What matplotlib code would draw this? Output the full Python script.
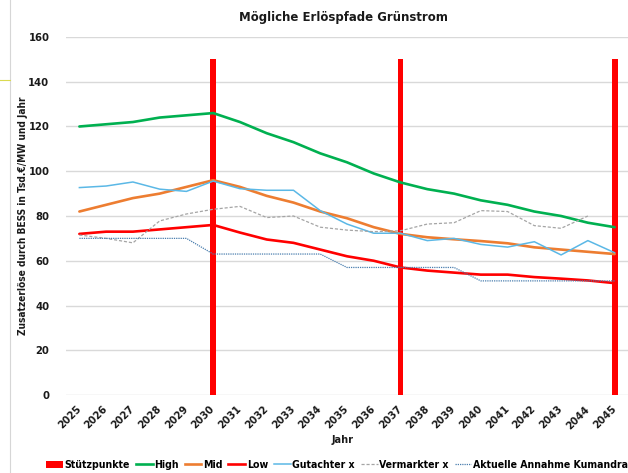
import numpy as np
import matplotlib
matplotlib.use("Agg")
import matplotlib.pyplot as plt
from matplotlib.lines import Line2D
from matplotlib.patches import Patch

plt.rcParams['font.family'] = ['DejaVu Sans']
plt.rcParams['font.stretch'] = 'condensed'
plt.rcParams['font.weight'] = 'bold'

years = [str(y) for y in range(2025, 2046)]
stuetzpunkte = [np.nan]*5 + [150] + [np.nan]*6 + [150] + [np.nan]*7 + [150]
high = [120, 121, 122, 124, 125, 126, 122, 117, 113, 108, 104, 99, 95, 92, 90, 87, 85, 82, 80, 77, 75]
mid = [82, 85, 88, 90, 93, 96, 93, 89, 86, 82, 79, 75, 72, 70.5, 69.6, 68.8, 67.8, 66, 65, 64, 63]
low = [72, 73, 73, 74, 75, 76, 72.6, 69.5, 68, 65, 62, 60, 57, 55.6, 54.7, 53.8, 53.8, 52.7, 52, 51.2, 50]
gutachter = [92.7, 93.4, 95.2, 92, 91, 95.6, 92.2, 91.5, 91.5, 82.4, 76.4, 72.3, 72.3, 69, 70, 67.3, 66.1, 68.5, 62.6, 69, 63.6]
vermarkter = [71.5, 70, 68, 77.8, 80.9, 83, 84.3, 79.3, 80, 75, 73.7, 73, 73.4, 76.4, 77, 82.4, 82, 75.7, 74.5, 80, np.nan]
kumandra = [70, 70, 70, 70, 70, 63, 63, 63, 63, 63, 57, 57, 57, 57, 57, 51, 51, 51, 51, 51, 51]

W, H = 628, 473
fig = plt.figure(figsize=(W/100, H/100), dpi=100)
ax = fig.add_axes([66/W, 1-395/H, (628-66)/W, (395-37)/H])

x = np.arange(len(years))
c_high = '#00B050'
c_mid = '#ED7D31'
c_low = '#FF0000'
c_gut = '#5BB8E6'
c_ver = '#A5A5A5'
c_kum = '#4A7EAE'

ax.bar(x, stuetzpunkte, width=0.22, color='#FF0000', zorder=2)
ax.plot(x, high, color=c_high, lw=1.9, zorder=3, solid_capstyle='round')
ax.plot(x, mid, color=c_mid, lw=1.9, zorder=3, solid_capstyle='round')
ax.plot(x, low, color=c_low, lw=1.9, zorder=3, solid_capstyle='round')
ax.plot(x, gutachter, color=c_gut, lw=1.1, zorder=3)
ax.plot(x, vermarkter, color=c_ver, lw=0.9, ls=(0, (2.5, 1.5)), zorder=3)
ax.plot(x, kumandra, color=c_kum, lw=0.9, ls=(0, (1, 0.8)), zorder=3)

ax.set_xlim(-0.5, len(years) - 0.5)
ax.set_ylim(0, 160)
ax.set_yticks(np.arange(0, 161, 20))
ax.yaxis.grid(True, color='#D9D9D9', lw=1.0, zorder=0)
ax.set_axisbelow(True)
for s in ax.spines.values():
    s.set_visible(False)
ax.tick_params(axis='both', length=0, labelsize=8, colors='#1a1a1a')
ax.tick_params(axis='y', pad=12)
ax.set_xticks(x)
ax.set_xticklabels(years, rotation=45, ha='right', va='center', rotation_mode='anchor',
                   fontweight='bold', fontstretch='condensed')
ax.tick_params(axis='x', pad=9)
for lab in ax.get_yticklabels():
    lab.set_fontweight('bold')
    lab.set_fontstretch('condensed')

ax.set_ylabel('Zusatzerlöse durch BESS in Tsd.€/MW und Jahr', fontsize=7.3, fontweight='bold',
              fontstretch='condensed', color='#1a1a1a')
ax.yaxis.set_label_coords((28 - 66) / (628 - 66), 0.5)
fig.text(343/W, 1-440/H, 'Jahr', ha='center', va='center', fontsize=7.8, fontweight='bold',
         fontstretch='condensed', color='#1a1a1a')
fig.text(343/W, 1-17/H, 'Mögliche Erlöspfade Grünstrom', ha='center', va='center', fontsize=9.4,
         fontweight='bold', fontstretch='condensed', color='#1a1a1a')

handles = [
    Patch(facecolor='#FF0000', edgecolor='none'),
    Line2D([], [], color=c_high, lw=1.9),
    Line2D([], [], color=c_mid, lw=1.9),
    Line2D([], [], color=c_low, lw=1.9),
    Line2D([], [], color=c_gut, lw=1.1),
    Line2D([], [], color=c_ver, lw=0.9, ls=(0, (2.5, 1.5))),
    Line2D([], [], color=c_kum, lw=0.9, ls=(0, (1, 0.8))),
]
labels = ['Stützpunkte', 'High', 'Mid', 'Low', 'Gutachter x', 'Vermarkter x', 'Aktuelle Annahme Kumandra']
leg = fig.legend(handles, labels, loc='center', bbox_to_anchor=(337/W, 1-465/H), ncol=7, frameon=False,
                 handlelength=1.6, handletextpad=0.15, columnspacing=0.55, borderpad=0,
                 prop={'weight': 'bold', 'size': 7.6, 'stretch': 'condensed', 'family': 'DejaVu Sans'})

# screenshot artifacts
fig.add_artist(Line2D([10/W, 10/W], [0, 1], color='#D6D6D6', lw=0.8, transform=fig.transFigure))
fig.add_artist(Line2D([0, 10/W], [1-80/H, 1-80/H], color='#DADA50', lw=0.8, transform=fig.transFigure))

fig.savefig('out.png', dpi=100)
